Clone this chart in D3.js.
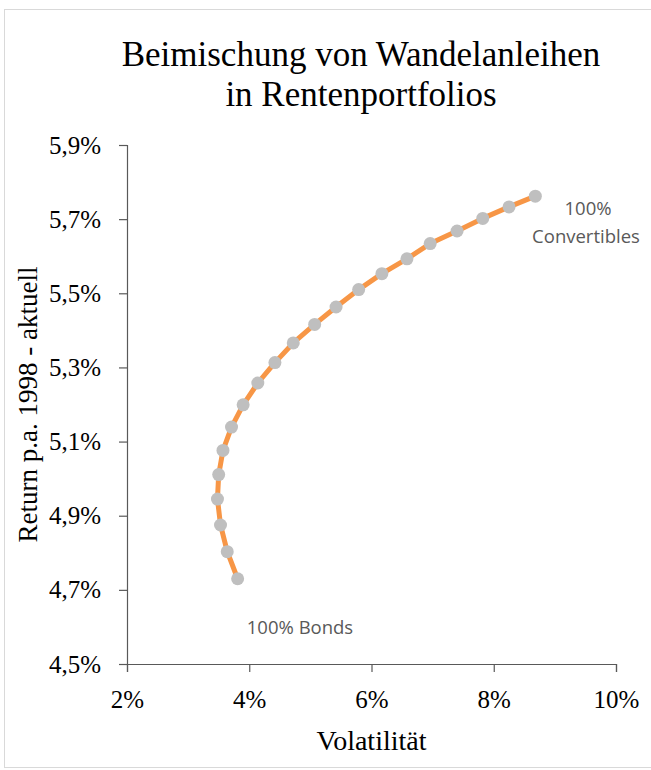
<!DOCTYPE html>
<html>
<head>
<meta charset="utf-8">
<script src="https://cdn.jsdelivr.net/npm/d3@7"></script>
<style>
  body { margin: 0; background: #fff; }
</style>
</head>
<body>
<div id="chart"></div>
<script>
// volatility (%) and return p.a. (%) from 100% bonds to 100% convertibles
var volatility = [3.81, 3.64, 3.53, 3.48, 3.50, 3.57, 3.71, 3.90, 4.14, 4.42, 4.72,
                  5.07, 5.42, 5.79, 6.17, 6.58, 6.96, 7.40, 7.82, 8.25, 8.68];
var returns    = [4.73, 4.803, 4.875, 4.945, 5.011, 5.076, 5.139, 5.199, 5.258, 5.313, 5.366,
                  5.416, 5.463, 5.510, 5.553, 5.593, 5.634, 5.668, 5.702, 5.733, 5.762];
var xTicks = [2, 4, 6, 8, 10];
var yTicks = [4.5, 4.7, 4.9, 5.1, 5.3, 5.5, 5.7, 5.9];

var full_width = 651;
var full_height = 770;
var margin = {left: 127, right: 35, top: 145, bottom: 106};

var svg = d3.select("#chart")
    .append("svg")
    .attr("width", full_width)
    .attr("height", full_height);

svg.append("rect")
    .attr("x", 4.5).attr("y", 9.5)
    .attr("width", 660).attr("height", 758)
    .attr("fill", "none")
    .attr("stroke", "#d9d9d9");

var x = d3.scaleLinear().domain([2, 10]).range([margin.left, full_width - margin.right]);
var y = d3.scaleLinear().domain([4.5, 5.9]).range([full_height - margin.bottom, margin.top]);

var serif = "'Liberation Serif', serif";
var sans = "'Open Sans', sans-serif";

// title
svg.append("text")
    .attr("x", 361).attr("y", 66)
    .attr("text-anchor", "middle")
    .style("font-family", serif).style("font-size", "35px").style("fill", "#000")
    .text("Beimischung von Wandelanleihen");
svg.append("text")
    .attr("x", 361).attr("y", 106)
    .attr("text-anchor", "middle")
    .style("font-family", serif).style("font-size", "35px").style("fill", "#000")
    .text("in Rentenportfolios");

// axes
var xAxis = svg.append("g")
    .attr("transform", "translate(0," + y(4.5) + ")")
    .call(d3.axisBottom(x).tickValues(xTicks).tickSizeOuter(0).tickSize(8).tickPadding(18)
        .tickFormat(function(d){ return d + "%"; }));

var yAxis = svg.append("g")
    .attr("transform", "translate(" + x(2) + ",0)")
    .call(d3.axisLeft(y).tickValues(yTicks).tickSizeOuter(0).tickSize(8).tickPadding(18)
        .tickFormat(function(d){ return d3.format(".1f")(d).replace(".", ",") + "%"; }));

[xAxis, yAxis].forEach(function(a){
    a.selectAll("path, line").attr("stroke", "#595959").attr("stroke-width", 1.2);
    a.selectAll("text")
        .style("font-family", serif).style("font-size", "25px").style("fill", "#000");
});

svg.append("text")
    .attr("x", x(6)).attr("y", 750)
    .attr("text-anchor", "middle")
    .style("font-family", serif).style("font-size", "28px").style("fill", "#000")
    .text("Volatilität");

svg.append("text")
    .attr("transform", "translate(37," + y(5.2) + ") rotate(-90)")
    .attr("text-anchor", "middle")
    .style("font-family", serif).style("font-size", "27px").style("fill", "#000")
    .text("Return p.a. 1998 - aktuell");

// curve
var points = volatility.map(function(v, i){ return [v, returns[i]]; });

svg.append("path")
    .datum(points)
    .attr("fill", "none")
    .attr("stroke", "#F79646")
    .attr("stroke-width", 5)
    .attr("stroke-linejoin", "round")
    .attr("d", d3.line().x(function(d){ return x(d[0]); }).y(function(d){ return y(d[1]); }));

svg.selectAll("circle.pt")
    .data(points)
    .enter().append("circle")
    .attr("class", "pt")
    .attr("cx", function(d){ return x(d[0]); })
    .attr("cy", function(d){ return y(d[1]); })
    .attr("r", 6.5)
    .attr("fill", "#BFBFBF");

// labels
svg.append("text")
    .attr("x", 588).attr("y", 215)
    .attr("text-anchor", "middle")
    .style("font-family", sans).style("font-size", "18.5px").style("fill", "#595959")
    .text("100%");
svg.append("text")
    .attr("x", 586).attr("y", 243)
    .attr("text-anchor", "middle")
    .style("font-family", sans).style("font-size", "18.5px").style("fill", "#595959")
    .text("Convertibles");
svg.append("text")
    .attr("x", 300).attr("y", 634)
    .attr("text-anchor", "middle")
    .style("font-family", sans).style("font-size", "18.5px").style("fill", "#595959")
    .text("100% Bonds");
</script>
</body>
</html>
